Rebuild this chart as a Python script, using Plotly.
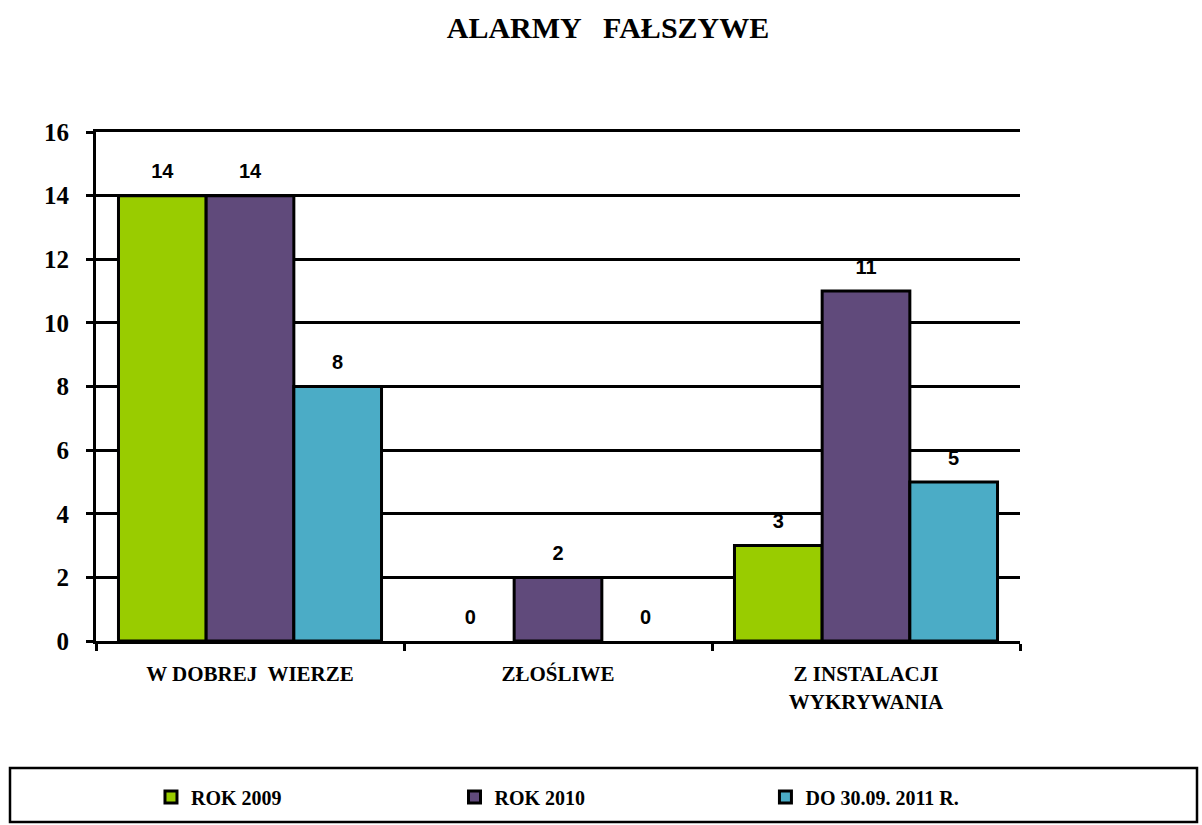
import plotly.graph_objects as go

categories = ["W DOBREJ  WIERZE", "ZŁOŚLIWE", "Z INSTALACJI<br>WYKRYWANIA"]
series_names = ["ROK 2009", "ROK 2010", "DO 30.09. 2011 R."]
v2009 = [14, 0, 3]
v2010 = [14, 2, 11]
v2011 = [8, 0, 5]
colors = ["#99CC00", "#604A7B", "#4BACC6"]
y_ticks = [0, 2, 4, 6, 8, 10, 12, 14, 16]

legend_ids = ["legend", "legend2", "legend3"]
legend_x = [0.0595, 0.388, 0.7245]

L, R, T, B = 96, 1020, 132, 641
W, H = R - L, B - T

fig = go.Figure()
for name, vals, col, lid in zip(series_names, [v2009, v2010, v2011], colors, legend_ids):
    fig.add_trace(go.Bar(
        x=categories, y=vals, name=name, legend=lid, offsetgroup=name,
        marker=dict(color=col, line=dict(color="black", width=[3 if v > 0 else 0 for v in vals])),
    ))
    fig.add_trace(go.Scatter(
        x=categories, y=vals, mode="markers+text", offsetgroup=name, showlegend=False,
        marker=dict(size=18, color="rgba(0,0,0,0)"),
        text=[str(v) for v in vals], textposition="top center", cliponaxis=False,
        textfont=dict(family="Liberation Sans", size=20, color="black", weight="bold"),
        hoverinfo="skip",
    ))

legend_common = dict(orientation="h", xanchor="left", y=(B - 797) / H, yanchor="middle",
                     itemwidth=30,
                     font=dict(family="Liberation Serif", size=20, color="black", weight="bold"),
                     bgcolor="rgba(0,0,0,0)")

fig.update_layout(
    width=1202, height=825,
    paper_bgcolor="white", plot_bgcolor="white",
    margin=dict(l=L, r=1202 - R, t=T, b=825 - B, autoexpand=False),
    barmode="group", bargap=0.146, bargroupgap=0,
    scattermode="group", scattergap=0.146,
    title=dict(text="<b>ALARMY   FAŁSZYWE</b>", x=608 / 1202, xref="container", xanchor="center",
               y=1 - 27 / 825, yref="container", yanchor="middle",
               font=dict(family="Liberation Serif", size=30, color="black")),
    showlegend=True,
    legend=dict(x=legend_x[0], **legend_common),
    legend2=dict(x=legend_x[1], **legend_common),
    legend3=dict(x=legend_x[2], **legend_common),
    shapes=[dict(type="rect", xref="paper", yref="paper",
                 x0=(10 - L) / W, x1=(1197 - L) / W,
                 y0=(B - 768) / H, y1=(B - 822) / H,
                 line=dict(color="black", width=2.5), fillcolor="rgba(0,0,0,0)", layer="below")],
)
fig.update_yaxes(
    range=[0, 16], tickvals=y_ticks, showgrid=True, gridcolor="black", gridwidth=2.5,
    showline=True, linecolor="black", linewidth=3, ticks="outside", ticklen=7, tickwidth=3, tickcolor="black",
    ticklabelstandoff=12, automargin=False,
    tickfont=dict(family="Liberation Serif", size=25, color="black", weight="bold"),
    zeroline=False,
)
fig.update_xaxes(
    showline=True, mirror=True, linecolor="black", linewidth=3, ticks="outside", ticklen=7, tickwidth=3,
    tickcolor="black", tickson="boundaries", ticklabelstandoff=12, automargin=False,
    tickfont=dict(family="Liberation Serif", size=21, color="black", weight="bold"),
)
fig.write_html("out.html", config={"displayModeBar": False},
               post_script="document.body.style.margin='0';document.body.style.overflow='hidden';")
